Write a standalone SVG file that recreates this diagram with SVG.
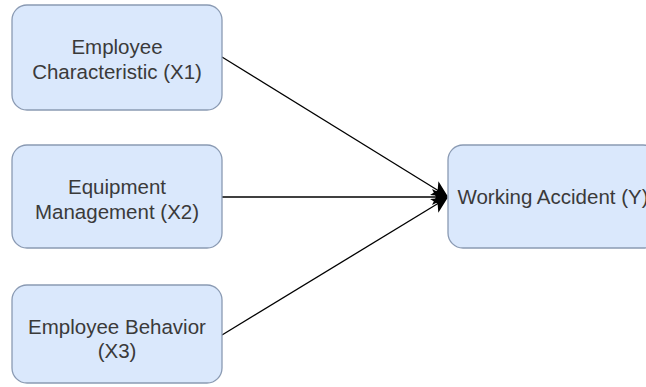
<svg xmlns="http://www.w3.org/2000/svg" width="646" height="387" viewBox="0 0 646 387">
<defs>
<style>
.box{fill:#dae8fc;stroke:#8a9ab3;stroke-width:1.3}
.lbl{font-family:"Liberation Sans",Arial,sans-serif;font-size:20.5px;fill:#3a3a3a;text-anchor:middle}
.edge{stroke:#000;stroke-width:1.3;fill:none}
</style>
<marker id="arr" viewBox="0 0 16 16" refX="15" refY="8" markerWidth="16" markerHeight="16" markerUnits="userSpaceOnUse" orient="auto">
<path d="M0,0 L16,8 L0,16 L4,8 Z" fill="#000"/>
</marker>
</defs>
<rect width="646" height="387" fill="#ffffff"/>
<g id="connectors">
<line class="edge" x1="222" y1="57" x2="447" y2="196" marker-end="url(#arr)"/>
<line class="edge" x1="222" y1="197" x2="447" y2="197" marker-end="url(#arr)"/>
<line class="edge" x1="222" y1="335" x2="447" y2="198" marker-end="url(#arr)"/>
</g>
<g id="n1">
<rect class="box" x="12" y="5" width="210" height="105" rx="15"/>
<text class="lbl" x="117" y="54">Employee</text>
<text class="lbl" x="117" y="79">Characteristic (X1)</text>
</g>
<g id="n2">
<rect class="box" x="12" y="145" width="210" height="103" rx="15"/>
<text class="lbl" x="117" y="194">Equipment</text>
<text class="lbl" x="117" y="219">Management (X2)</text>
</g>
<g id="n3">
<rect class="box" x="12" y="285" width="210" height="98" rx="15"/>
<text class="lbl" x="117" y="334">Employee Behavior</text>
<text class="lbl" x="117" y="358">(X3)</text>
</g>
<g id="n4">
<rect class="box" x="448" y="145" width="210" height="103" rx="15"/>
<text class="lbl" x="553" y="204">Working Accident (Y)</text>
</g>
</svg>
